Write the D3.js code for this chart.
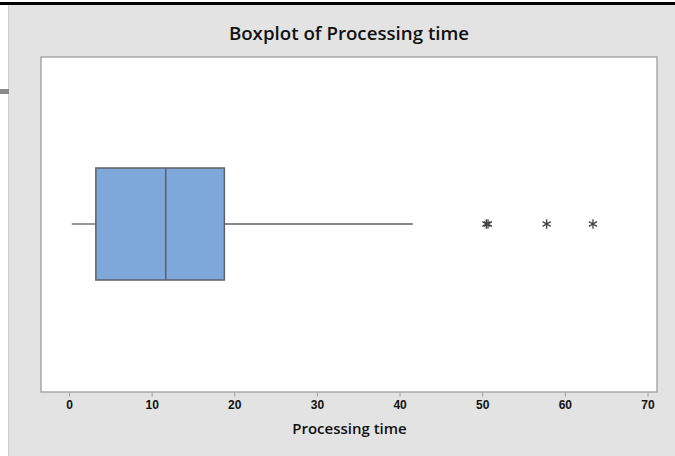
<!DOCTYPE html>
<html>
<head>
<meta charset="utf-8">
<script src="https://cdn.jsdelivr.net/npm/d3@7"></script>
<style>
  body { margin: 0; background: #fff; }
  svg { display: block; font-family: "Open Sans", "Noto Sans", sans-serif; }
</style>
</head>
<body>
<svg id="chart" width="675" height="456"></svg>
<script>
// box summary
const boxStats = { lowWhisker: 0.33, q1: 3.25, median: 11.7, q3: 18.8, highWhisker: 41.6 };
const outliers = [50.5, 50.7, 57.8, 63.4];
const xTicks = [0, 10, 20, 30, 40, 50, 60, 70];
const title = 'Boxplot of Processing time';
const xLabel = 'Processing time';

const svg = d3.select('#chart');
const W = 675, H = 456;
const frame = { left: 41, top: 57, right: 657, bottom: 392 };

// window-ish background
svg.append('rect').attr('x', 9).attr('y', 4).attr('width', W - 9).attr('height', H - 4).attr('fill', '#e3e3e3');
svg.append('line').attr('x1', 8.5).attr('x2', 8.5).attr('y1', 5).attr('y2', H).attr('stroke', '#cfcfcf');
svg.append('line').attr('x1', 0).attr('x2', W).attr('y1', 3.5).attr('y2', 3.5).attr('stroke', '#000').attr('stroke-width', 3);
svg.append('rect').attr('x', 0).attr('y', 89).attr('width', 9).attr('height', 5).attr('fill', '#8a8a8a');

svg.append('rect')
  .attr('x', frame.left).attr('y', frame.top)
  .attr('width', frame.right - frame.left).attr('height', frame.bottom - frame.top)
  .attr('fill', '#fff').attr('stroke', '#a8a8a8').attr('stroke-width', 1.5);

const x = d3.scaleLinear().domain([0, 70]).range([69, 647.5]);
const yMid = 224, boxH = 112;

const axis = svg.append('g')
  .attr('transform', `translate(0,${frame.bottom + 0.75})`)
  .call(d3.axisBottom(x).tickValues(xTicks).tickSize(4).tickPadding(4));
axis.select('.domain').remove();
axis.selectAll('.tick line').attr('stroke', '#a0a0a0');
axis.selectAll('.tick text').attr('fill', '#111').attr('font-size', 12).attr('font-weight', 600);

const g = svg.append('g');
const stroke = '#5c6166';

g.append('line')
  .attr('x1', x(boxStats.lowWhisker)).attr('x2', x(boxStats.q1))
  .attr('y1', yMid).attr('y2', yMid).attr('stroke', stroke).attr('stroke-width', 1.3);
g.append('line')
  .attr('x1', x(boxStats.q3)).attr('x2', x(boxStats.highWhisker))
  .attr('y1', yMid).attr('y2', yMid).attr('stroke', stroke).attr('stroke-width', 1.3);

g.append('rect')
  .attr('x', x(boxStats.q1)).attr('y', yMid - boxH / 2)
  .attr('width', x(boxStats.q3) - x(boxStats.q1)).attr('height', boxH)
  .attr('fill', '#7ea7da').attr('stroke', stroke).attr('stroke-width', 1.5);
g.append('line')
  .attr('x1', x(boxStats.median)).attr('x2', x(boxStats.median))
  .attr('y1', yMid - boxH / 2).attr('y2', yMid + boxH / 2)
  .attr('stroke', stroke).attr('stroke-width', 1.5);

// asterisk outliers
const star = d3.symbol().type(d3.symbolAsterisk).size(60);
g.selectAll('.out').data(outliers).join('path')
  .attr('class', 'out')
  .attr('d', star)
  .attr('transform', d => `translate(${x(d)},${yMid})`)
  .attr('fill', 'none').attr('stroke', '#444').attr('stroke-width', 1.3);

svg.append('text')
  .attr('x', 349).attr('y', 40).attr('text-anchor', 'middle')
  .attr('font-size', 18.7).attr('font-weight', 600).attr('fill', '#111')
  .text(title);

svg.append('text')
  .attr('x', 349.5).attr('y', 434).attr('text-anchor', 'middle')
  .attr('font-size', 15).attr('font-weight', 600).attr('fill', '#111')
  .text(xLabel);
</script>
</body>
</html>
